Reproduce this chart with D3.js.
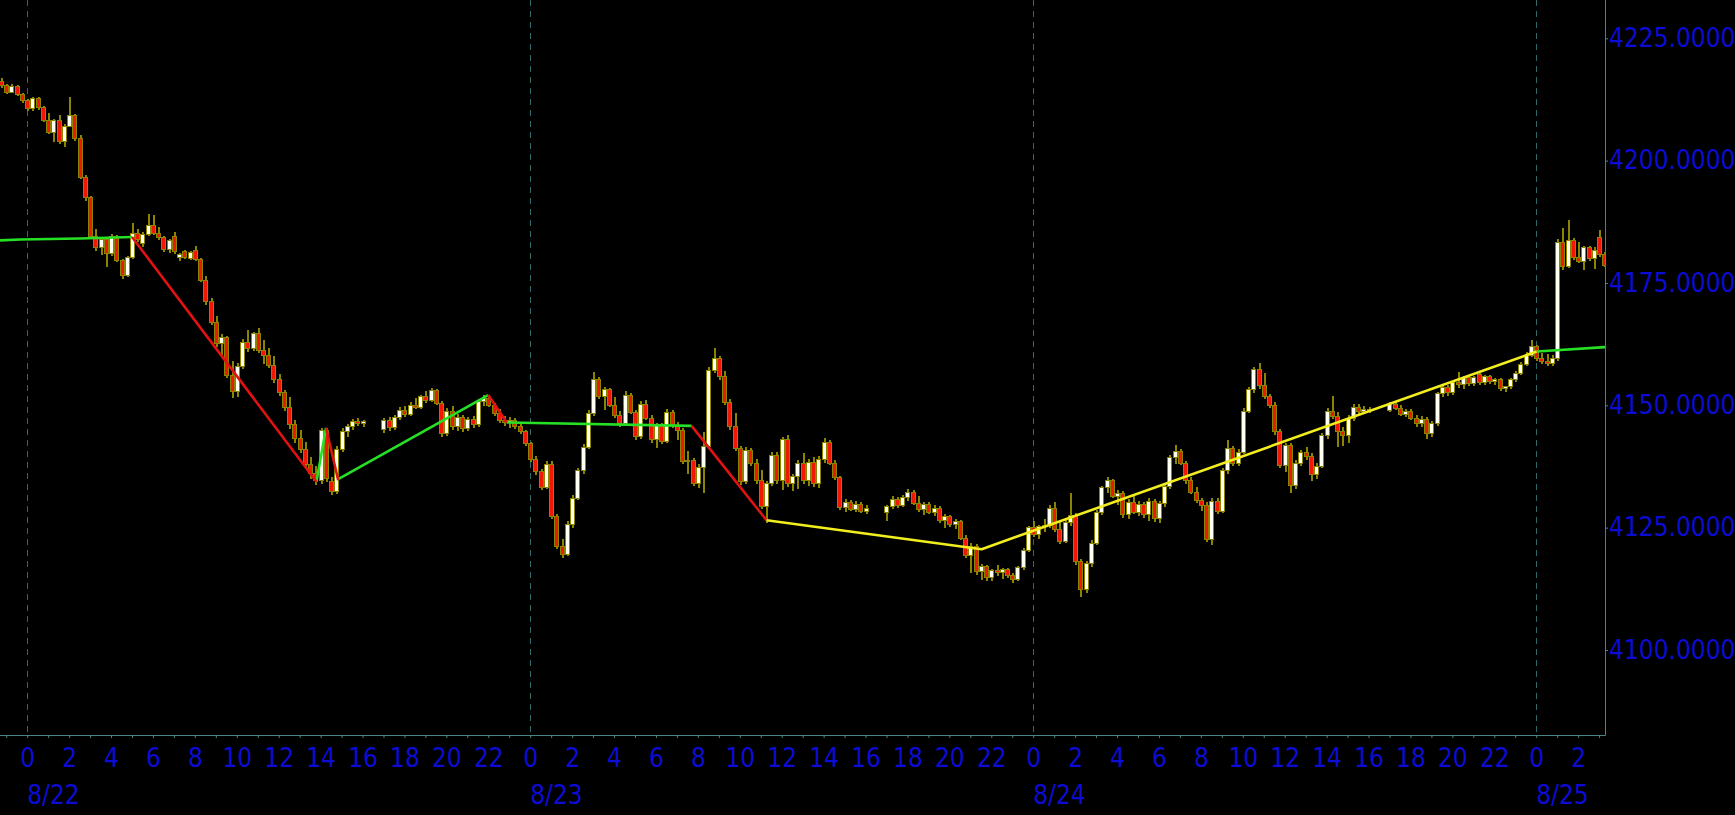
<!DOCTYPE html>
<html lang="en">
<head>
<meta charset="UTF-8">
<title>Intraday candles 8/22 - 8/25</title>
<script src="https://d3js.org/d3.v7.min.js"></script>
<style>
    body {
        margin: 0;
        background: #000;
        overflow: hidden;
    }
    .axis-label {
        font-family: "DejaVu Sans Condensed", "Liberation Sans", sans-serif;
        font-size: 26px;
        fill: #0c0cd4;
    }
</style>
</head>
<body>
<svg id="chart" width="1735" height="815"></svg>
<script>
    // 15-minute bars: [hours from 8/22 00:00, open, high, low, close]
    const bars0822 = [
        [-1.25,4216.2,4216.8,4214.8,4215.3],[-1.00,4215.3,4215.6,4213.6,4214.0],[-0.75,4214.0,4215.6,4213.8,4215.2],
        [-0.50,4215.2,4215.5,4213.2,4213.5],[-0.25,4213.5,4213.9,4211.8,4212.2],[0.00,4212.2,4212.6,4210.2,4210.6],
        [0.25,4210.6,4213.0,4210.2,4212.8],[0.50,4212.8,4213.1,4210.4,4210.8],[0.75,4210.8,4211.2,4207.8,4208.2],
        [1.00,4208.2,4209.8,4205.4,4205.8],[1.25,4205.8,4208.6,4203.8,4208.3],[1.50,4208.3,4209.4,4203.5,4204.0],
        [1.75,4204.0,4207.4,4202.8,4207.0],[2.00,4207.0,4213.0,4206.8,4209.3],[2.25,4209.3,4209.6,4204.0,4204.5],
        [2.50,4204.5,4205.2,4196.2,4196.6],[2.75,4196.6,4197.0,4191.8,4192.4],[3.00,4192.4,4192.8,4184.0,4184.6],
        [3.25,4184.6,4186.0,4181.6,4182.2],[3.50,4182.2,4184.4,4180.8,4183.8],[3.75,4183.8,4184.2,4178.3,4181.0],
        [4.00,4181.0,4185.0,4180.6,4184.5],[4.25,4184.5,4184.8,4179.2,4179.6],[4.50,4179.6,4180.0,4175.9,4176.6],
        [4.75,4176.6,4180.6,4176.2,4180.2],[5.00,4180.2,4187.2,4180.0,4185.2],[5.25,4185.2,4186.0,4183.4,4183.8],
        [5.50,4183.0,4185.4,4182.4,4185.0],[5.75,4185.0,4189.0,4184.6,4186.8],[6.00,4186.8,4188.8,4184.8,4185.2],
        [6.25,4185.2,4186.4,4183.8,4184.2],[6.50,4184.2,4184.6,4181.4,4181.8],[6.75,4181.8,4184.0,4181.2,4183.6],
        [7.00,4184.6,4185.4,4181.0,4181.4],[7.25,4180.2,4181.2,4179.4,4180.8],[7.50,4181.4,4181.8,4179.8,4180.2],
        [7.75,4180.0,4181.6,4179.6,4181.2],[8.00,4181.6,4182.6,4179.4,4179.8],[8.25,4179.8,4180.2,4175.2,4175.6],
        [8.50,4175.6,4176.4,4170.6,4171.2],[8.75,4171.2,4172.0,4166.4,4167.0],[9.00,4167.0,4168.2,4162.0,4162.6],
        [9.25,4162.6,4164.6,4159.8,4163.8],[9.50,4163.8,4164.2,4155.6,4156.0],[9.75,4156.0,4159.0,4151.4,4152.8],
        [10.00,4152.8,4158.6,4151.8,4158.0],[10.25,4158.0,4163.6,4157.4,4162.8],[10.50,4162.8,4165.4,4160.8,4161.6],
        [10.75,4161.6,4165.0,4161.0,4164.6],[11.00,4164.6,4165.8,4160.6,4161.2],[11.25,4161.2,4163.4,4158.4,4160.2],
        [11.50,4160.2,4161.8,4157.6,4158.2],[11.75,4158.2,4160.0,4154.6,4155.2],[12.00,4155.2,4156.4,4152.0,4152.6],
        [12.25,4152.6,4153.2,4148.8,4149.6],[12.50,4149.6,4151.8,4145.2,4146.0],[12.75,4146.0,4147.0,4142.4,4143.2],
        [13.00,4143.2,4145.0,4140.2,4141.0],[13.25,4141.0,4142.6,4137.4,4138.0],[13.50,4138.0,4139.4,4135.0,4136.0],
        [13.75,4136.0,4137.6,4133.8,4134.6],[14.00,4134.6,4145.4,4134.0,4144.8],[14.25,4144.8,4145.4,4134.4,4135.0],
        [14.50,4134.4,4135.4,4131.6,4132.4],[14.75,4132.4,4141.6,4131.8,4141.0],[15.00,4141.0,4145.4,4140.4,4144.6],
        [15.25,4144.6,4146.2,4143.6,4145.6],[15.50,4145.6,4147.2,4145.0,4146.6],[15.75,4146.6,4147.4,4145.8,4146.2],
        [16.00,4146.2,4147.0,4145.6,4146.6]
    ];
    const bars0823 = [
        [17.00,4145.0,4147.4,4144.4,4147.0],[17.25,4147.0,4147.6,4144.8,4145.4],[17.50,4145.4,4148.0,4145.0,4147.6],
        [17.75,4147.6,4149.6,4147.0,4149.0],[18.00,4149.0,4149.8,4147.6,4148.2],[18.25,4148.2,4150.6,4147.8,4150.0],
        [18.50,4150.0,4151.4,4149.2,4149.6],[18.75,4149.6,4152.2,4149.2,4151.8],[19.00,4151.8,4153.0,4150.4,4151.0],
        [19.25,4151.0,4153.6,4150.6,4153.0],[19.50,4153.0,4153.4,4150.0,4150.4],[19.75,4150.4,4150.8,4143.6,4144.2],
        [20.00,4144.2,4149.4,4143.8,4148.8],[20.25,4148.8,4149.8,4145.0,4145.6],[20.50,4145.6,4148.2,4144.8,4147.6],
        [20.75,4147.6,4148.0,4144.6,4145.2],[21.00,4145.2,4147.6,4144.8,4147.2],[21.25,4147.2,4147.8,4145.4,4146.0],
        [21.50,4146.0,4151.2,4145.6,4150.8],[21.75,4150.8,4152.2,4149.8,4151.4],[22.00,4151.4,4152.0,4149.6,4150.0],
        [22.25,4150.0,4150.4,4147.8,4148.4],[22.50,4148.4,4149.2,4146.4,4146.8],[22.75,4146.8,4147.8,4145.8,4146.4],
        [23.00,4146.4,4147.6,4145.4,4147.0],[23.25,4147.0,4147.4,4145.2,4145.6],[23.50,4145.6,4146.2,4144.2,4144.6],
        [23.75,4144.6,4145.0,4141.6,4142.2],[24.00,4142.2,4142.6,4138.4,4139.0],[24.25,4139.0,4139.6,4135.8,4136.4],
        [24.50,4136.4,4137.0,4132.6,4133.2],[24.75,4133.2,4138.6,4132.8,4138.0],[25.00,4138.0,4138.6,4126.8,4127.2],
        [25.25,4127.2,4127.8,4120.6,4121.2],[25.50,4121.2,4122.6,4118.8,4119.6],[25.75,4119.6,4126.4,4119.2,4125.6],
        [26.00,4125.6,4131.6,4125.0,4131.0],[26.25,4131.0,4137.2,4130.6,4136.6],[26.50,4136.6,4142.0,4136.0,4141.4],
        [26.75,4141.4,4149.0,4141.0,4148.4],[27.00,4148.4,4156.8,4147.8,4155.2],[27.25,4155.2,4155.8,4151.2,4151.8],
        [27.50,4151.8,4153.8,4149.0,4153.2],[27.75,4153.2,4153.6,4149.6,4150.0],[28.00,4150.0,4151.8,4147.4,4148.0],
        [28.25,4148.0,4148.8,4145.6,4146.2],[28.50,4146.2,4153.0,4145.8,4152.0],[28.75,4152.0,4152.6,4148.2,4148.6],
        [29.00,4148.6,4149.0,4143.0,4143.6],[29.25,4143.6,4150.8,4143.2,4150.2],[29.50,4150.2,4151.0,4147.0,4147.4],
        [29.75,4147.4,4148.0,4142.4,4143.0],[30.00,4143.0,4146.4,4141.2,4145.8],[30.25,4145.8,4146.4,4142.0,4142.6],
        [30.50,4142.6,4149.2,4142.2,4148.6],[30.75,4148.6,4149.0,4145.4,4145.8],[31.00,4145.8,4146.6,4143.0,4144.8],
        [31.25,4144.8,4145.4,4138.0,4138.6],[31.50,4138.6,4140.6,4136.0,4138.8],[31.75,4138.8,4139.2,4133.6,4134.0],
        [32.00,4134.0,4138.0,4133.2,4137.2],[32.25,4137.2,4144.6,4132.0,4141.6],[32.50,4141.6,4157.8,4141.0,4157.2],
        [32.75,4157.2,4161.8,4156.6,4159.6],[33.00,4159.6,4160.0,4155.2,4155.8],[33.25,4155.8,4157.0,4150.0,4150.6],
        [33.50,4150.6,4151.2,4145.0,4145.6],[33.75,4145.6,4148.4,4140.6,4141.2],[34.00,4141.2,4141.6,4133.8,4134.4],
        [34.25,4134.4,4141.4,4134.0,4140.8],[34.50,4140.8,4141.2,4137.6,4138.2],[34.75,4138.2,4139.0,4134.0,4134.6],
        [35.00,4134.6,4136.8,4128.8,4129.4],[35.25,4129.4,4134.6,4126.0,4134.0],[35.50,4134.0,4140.4,4133.6,4139.8],
        [35.75,4139.8,4140.4,4134.0,4134.6],[36.00,4134.6,4143.6,4132.6,4143.0],[36.25,4143.0,4144.0,4133.4,4134.0],
        [36.50,4134.0,4136.0,4132.4,4135.4],[36.75,4135.4,4138.8,4133.0,4138.2],[37.00,4138.2,4140.2,4134.0,4134.6],
        [37.25,4134.6,4139.0,4133.6,4138.4],[37.50,4138.4,4139.4,4133.4,4134.0],[37.75,4134.0,4139.6,4133.2,4139.0],
        [38.00,4139.0,4143.4,4138.2,4142.4],[38.25,4142.4,4143.0,4137.8,4138.2],[38.50,4138.2,4138.8,4134.8,4135.2],
        [38.75,4135.2,4135.6,4128.6,4129.2],[39.00,4129.2,4130.8,4128.2,4130.2],[39.25,4130.2,4130.6,4128.4,4128.8],
        [39.50,4128.8,4130.4,4128.2,4129.8],[39.75,4129.8,4130.2,4128.0,4128.4],[40.00,4128.4,4129.6,4127.8,4129.0]
    ];
    const bars0824 = [
        [41.00,4128.0,4129.6,4126.4,4129.4],[41.25,4129.4,4131.4,4128.8,4130.8],[41.50,4130.8,4131.2,4129.0,4129.6],
        [41.75,4129.6,4131.6,4129.2,4131.2],[42.00,4131.2,4132.8,4130.4,4132.2],[42.25,4132.2,4132.6,4129.6,4130.0],
        [42.50,4130.0,4131.4,4128.2,4128.8],[42.75,4128.8,4130.2,4127.6,4129.8],[43.00,4129.8,4130.2,4127.8,4128.2],
        [43.25,4128.2,4129.6,4127.4,4129.0],[43.50,4129.0,4129.4,4126.0,4126.4],[43.75,4126.4,4127.8,4125.0,4127.2],
        [44.00,4127.2,4127.6,4125.2,4125.6],[44.25,4125.6,4126.8,4124.8,4126.2],[44.50,4126.2,4126.6,4122.4,4122.8],
        [44.75,4122.8,4123.4,4118.8,4119.4],[45.00,4119.4,4121.8,4115.8,4121.2],[45.25,4121.2,4121.6,4115.4,4116.0],
        [45.50,4116.0,4117.6,4114.4,4117.0],[45.75,4117.0,4117.4,4114.2,4114.8],[46.00,4114.8,4116.6,4114.2,4116.2],
        [46.25,4116.2,4117.4,4115.2,4115.8],[46.50,4115.8,4116.8,4114.6,4116.4],[46.75,4116.4,4116.8,4114.8,4115.2],
        [47.00,4115.2,4115.8,4113.6,4114.4],[47.25,4114.4,4117.2,4114.0,4116.8],[47.50,4116.8,4120.8,4116.4,4120.4],
        [47.75,4120.4,4125.4,4120.0,4125.0],[48.00,4125.0,4126.4,4123.0,4123.6],[48.25,4123.6,4125.6,4122.6,4125.2],
        [48.50,4125.2,4126.8,4124.2,4125.4],[48.75,4125.4,4129.6,4125.0,4129.0],[49.00,4129.0,4130.2,4124.2,4124.6],
        [49.25,4124.6,4126.2,4121.6,4122.2],[49.50,4122.2,4126.6,4121.8,4126.0],[49.75,4126.0,4132.0,4125.4,4127.4],
        [50.00,4127.4,4128.0,4117.4,4118.0],[50.25,4118.0,4118.6,4110.8,4112.4],[50.50,4112.4,4118.2,4111.6,4117.6],
        [50.75,4117.6,4122.4,4117.0,4121.8],[51.00,4121.8,4128.6,4121.4,4128.0],[51.25,4128.0,4133.6,4127.6,4133.2],
        [51.50,4133.2,4135.4,4132.0,4134.6],[51.75,4134.6,4135.0,4131.0,4131.4],[52.00,4131.4,4132.6,4129.6,4132.0],
        [52.25,4132.0,4132.4,4127.0,4127.6],[52.50,4127.6,4130.8,4126.8,4130.2],[52.75,4130.2,4131.4,4127.8,4128.2],
        [53.00,4128.2,4130.4,4127.4,4129.8],[53.25,4129.8,4130.2,4127.0,4127.6],[53.50,4127.6,4131.0,4126.4,4130.4],
        [53.75,4130.4,4130.8,4126.2,4126.8],[54.00,4126.8,4130.4,4126.0,4130.0],[54.25,4130.0,4134.0,4129.2,4133.4],
        [54.50,4133.4,4139.8,4133.0,4139.4],[54.75,4139.4,4141.8,4138.0,4140.6],[55.00,4140.6,4141.0,4137.8,4138.2],
        [55.25,4138.2,4138.6,4134.0,4134.6],[55.50,4134.6,4135.4,4131.8,4132.2],[55.75,4132.2,4133.4,4130.0,4130.6],
        [56.00,4130.6,4131.0,4128.4,4129.6],[56.25,4129.6,4130.2,4122.0,4122.6],[56.50,4122.6,4131.0,4121.4,4130.4],
        [56.75,4130.4,4131.0,4127.8,4128.4],[57.00,4128.4,4137.2,4128.0,4136.6],[57.25,4136.6,4143.0,4136.0,4141.2],
        [57.50,4141.2,4141.6,4137.6,4138.2],[57.75,4138.2,4141.0,4137.6,4140.4],[58.00,4140.4,4149.4,4140.0,4148.8],
        [58.25,4148.8,4153.8,4148.4,4153.2],[58.50,4153.2,4157.8,4152.6,4157.4],[58.75,4157.4,4158.6,4153.4,4154.0],
        [59.00,4154.0,4156.6,4151.2,4151.8],[59.25,4151.8,4152.4,4149.4,4150.0],[59.50,4150.0,4150.6,4144.0,4144.6],
        [59.75,4144.6,4145.2,4137.2,4137.8],[60.00,4137.8,4142.4,4136.4,4141.8],[60.25,4141.8,4142.2,4132.0,4133.6],
        [60.50,4133.6,4138.8,4133.0,4138.2],[60.75,4138.2,4140.8,4137.6,4140.4],[61.00,4140.4,4141.4,4138.8,4139.6],
        [61.25,4139.6,4140.2,4134.6,4135.8],[61.50,4135.8,4138.2,4135.0,4137.6],[61.75,4137.6,4144.4,4137.2,4143.8],
        [62.00,4143.8,4149.4,4143.2,4148.8],[62.25,4148.8,4152.0,4147.2,4147.8],[62.50,4147.8,4148.6,4141.4,4144.6],
        [62.75,4144.6,4145.6,4141.6,4143.8],[63.00,4143.8,4148.0,4142.4,4147.4],[63.25,4147.4,4150.2,4146.8,4149.6],
        [63.50,4149.6,4150.2,4148.2,4148.8],[63.75,4148.8,4149.8,4148.2,4149.2],[64.00,4149.2,4149.6,4148.4,4149.0]
    ];
    const bars0825 = [
        [65.00,4149.0,4150.6,4148.6,4150.2],[65.25,4150.2,4150.8,4149.0,4149.4],[65.50,4149.4,4150.0,4147.8,4148.2],
        [65.75,4148.2,4149.2,4147.6,4148.8],[66.00,4148.8,4149.2,4147.0,4147.4],[66.25,4147.4,4148.0,4145.6,4146.2],
        [66.50,4146.2,4147.8,4145.6,4147.2],[66.75,4147.2,4147.6,4143.2,4144.2],[67.00,4144.2,4146.8,4143.6,4146.2],
        [67.25,4146.2,4152.8,4145.8,4152.4],[67.50,4152.4,4154.0,4151.6,4153.6],[67.75,4153.6,4154.2,4152.0,4152.6],
        [68.00,4152.6,4155.0,4152.2,4154.6],[68.25,4154.6,4156.8,4153.6,4154.2],[68.50,4154.2,4156.0,4153.4,4155.6],
        [68.75,4155.6,4156.0,4154.0,4154.4],[69.00,4154.4,4156.0,4154.0,4155.6],[69.25,4156.4,4156.8,4154.2,4154.6],
        [69.50,4154.6,4156.2,4154.2,4155.8],[69.75,4155.8,4156.2,4154.4,4154.8],[70.00,4154.8,4155.6,4154.2,4155.2],
        [70.25,4155.2,4155.6,4153.0,4153.4],[70.50,4153.4,4154.0,4152.8,4153.8],[70.75,4153.8,4155.6,4153.4,4155.2],
        [71.00,4155.2,4157.0,4154.8,4156.6],[71.25,4156.6,4158.8,4156.2,4158.4],[71.50,4158.4,4160.8,4158.0,4160.2],
        [71.75,4160.2,4163.4,4159.8,4162.0],[72.00,4162.0,4162.4,4159.0,4159.6],[72.25,4159.6,4160.6,4158.4,4159.0],
        [72.50,4159.0,4160.4,4158.0,4158.6],[72.75,4158.6,4160.2,4158.0,4159.6],[73.00,4159.6,4184.0,4159.0,4183.2],
        [73.25,4183.2,4186.2,4177.6,4178.4],[73.50,4178.4,4187.8,4178.0,4183.6],[73.75,4183.6,4184.2,4179.6,4180.2],
        [74.00,4180.2,4183.4,4179.0,4179.4],[74.25,4179.4,4182.6,4177.6,4182.2],[74.50,4182.2,4182.6,4179.4,4180.0],
        [74.75,4180.0,4182.4,4177.8,4181.6],[75.00,4184.2,4185.8,4180.4,4180.8],[75.25,4180.8,4181.4,4178.2,4178.6]
    ];

    // swing line segments: [hours from 8/22 00:00, price] pairs
    const swingGreen = [
        [[-1.30,4183.7],[-0.34,4183.9],[2.52,4184.1],[5.00,4184.4]],
        [[13.80,4134.4],[14.26,4145.4]],
        [[14.84,4134.9],[22.00,4152.1]],
        [[22.88,4146.5],[31.70,4145.8]],
        [[72.02,4161.0],[75.30,4161.9]]
    ];
    const swingRed = [
        [[5.00,4184.4],[13.80,4134.4]],
        [[14.26,4145.4],[14.84,4134.7]],
        [[22.00,4152.1],[22.88,4146.5]],
        [[31.70,4145.8],[35.28,4126.5]]
    ];
    const swingYellow = [
        [[35.28,4126.5],[45.54,4120.6],[72.02,4161.0]]
    ];

    const priceTicks = [4100, 4125, 4150, 4175, 4200, 4225];
    const dayLabels = ["8/22", "8/23", "8/24", "8/25"];

    // layout
    const plotRight = 1605;
    const plotBottom = 735;
    const axisColor = '#4a8585';
    const gridColor = '#2f6a6a';
    const olive = '#8a8400';
    const upFill = '#fffff2';
    const downFill = '#f01800';

    const base = Date.UTC(2022, 7, 22, 0, 0);
    const toDate = h => new Date(base + h * 3600e3);

    const svg = d3.select('#chart');

    const x = d3.scaleUtc()
        .domain([toDate(0), toDate(72)])
        .range([27.2, 1536.2]);

    const y = d3.scaleLinear()
        .domain([4100, 4225])
        .range([650, 38.3]);

    svg.append('defs').append('clipPath').attr('id', 'plot-clip')
        .append('rect').attr('x', 0).attr('y', 0)
        .attr('width', plotRight).attr('height', plotBottom);

    // day separators
    const dayStarts = dayLabels.map((d, i) => toDate(i * 24));
    svg.append('g').selectAll('line')
        .data(dayStarts)
        .enter().append('line')
        .attr('x1', d => Math.round(x(d)) + 0.5)
        .attr('x2', d => Math.round(x(d)) + 0.5)
        .attr('y1', 0)
        .attr('y2', plotBottom)
        .attr('stroke', gridColor)
        .attr('stroke-width', 1)
        .attr('stroke-dasharray', '6,5');

    const plot = svg.append('g').attr('clip-path', 'url(#plot-clip)');

    // candles
    const allBars = [...bars0822, ...bars0823, ...bars0824, ...bars0825]
        .map(([h, o, hi, lo, c]) => ({ t: toDate(h), o, h: hi, l: lo, c }));

    const bodyW = 5;
    const candle = plot.append('g').attr('shape-rendering', 'crispEdges')
        .selectAll('g')
        .data(allBars)
        .enter().append('g');

    candle.append('line')
        .attr('x1', d => Math.round(x(d.t)) + 1)
        .attr('x2', d => Math.round(x(d.t)) + 1)
        .attr('y1', d => y(d.h))
        .attr('y2', d => y(d.l))
        .attr('stroke', olive)
        .attr('stroke-width', 2);

    candle.append('rect')
        .attr('x', d => Math.round(x(d.t)) - 2 + 0.5)
        .attr('width', bodyW - 1)
        .attr('y', d => y(Math.max(d.o, d.c)))
        .attr('height', d => Math.max(1, Math.abs(y(d.o) - y(d.c))))
        .attr('fill', d => d.c >= d.o ? upFill : downFill)
        .attr('stroke', olive)
        .attr('stroke-width', 1);

    // swing lines
    const swingLine = d3.line()
        .x(d => x(toDate(d[0])))
        .y(d => y(d[1]));

    const drawSwings = (segments, color) => {
        plot.append('g').selectAll('path')
            .data(segments)
            .enter().append('path')
            .attr('d', swingLine)
            .attr('fill', 'none')
            .attr('stroke', color)
            .attr('stroke-width', 2.6)
            .attr('stroke-linejoin', 'round');
    };
    drawSwings(swingGreen, '#26e026');
    drawSwings(swingRed, '#e01212');
    drawSwings(swingYellow, '#f2ee1e');

    // frame
    svg.append('line')
        .attr('x1', 0).attr('x2', plotRight + 0.5)
        .attr('y1', plotBottom + 0.5).attr('y2', plotBottom + 0.5)
        .attr('stroke', axisColor);
    svg.append('line')
        .attr('x1', plotRight + 0.5).attr('x2', plotRight + 0.5)
        .attr('y1', 0).attr('y2', plotBottom + 0.5)
        .attr('stroke', axisColor);

    // time axis: a tick every hour, a label every 2 hours
    const hourTicks = d3.utcHour.range(x.invert(0), x.invert(plotRight));
    const xAxis = d3.axisBottom(x)
        .tickValues(hourTicks)
        .tickSize(3)
        .tickFormat(d => d.getUTCHours() % 2 === 0 ? String(d.getUTCHours()) : '');

    const gx = svg.append('g')
        .attr('transform', `translate(0,${plotBottom})`)
        .call(xAxis);
    gx.select('.domain').remove();
    gx.selectAll('.tick line').attr('stroke', axisColor);
    gx.selectAll('.tick text')
        .attr('class', 'axis-label')
        .attr('y', 32)
        .attr('dy', null);

    svg.append('g').selectAll('text')
        .data(dayLabels)
        .enter().append('text')
        .attr('class', 'axis-label')
        .attr('x', (d, i) => x(dayStarts[i]))
        .attr('y', 804)
        .text(d => d);

    // price axis
    const yAxis = d3.axisRight(y)
        .tickValues(priceTicks)
        .tickSize(3)
        .tickPadding(1)
        .tickFormat(d3.format('.4f'));

    const gy = svg.append('g')
        .attr('transform', `translate(${plotRight},0)`)
        .call(yAxis);
    gy.select('.domain').remove();
    gy.selectAll('.tick line').attr('stroke', axisColor);
    gy.selectAll('.tick text').attr('class', 'axis-label');
</script>
</body>
</html>
